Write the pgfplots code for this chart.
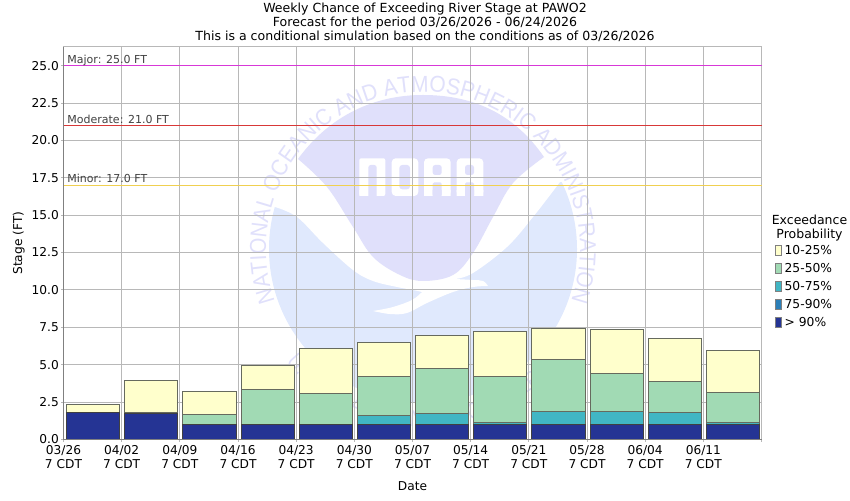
\documentclass[border=0pt]{standalone}
\usepackage{pgfplots}
\pgfplotsset{compat=1.18}
\usepackage{fontspec}
\setmainfont{DejaVu Sans}
\newfontfamily\logofont[FakeStretch=0.91]{Liberation Sans}
\newfontfamily\logofontb[FakeStretch=0.8]{Liberation Sans}
\usetikzlibrary{decorations.text}
\definecolor{gridc}{HTML}{B8B8B8}
\definecolor{axc}{HTML}{808080}
\definecolor{c1}{HTML}{FFFFCC}
\definecolor{c2}{HTML}{A1DAB4}
\definecolor{c3}{HTML}{41B6C4}
\definecolor{c4}{HTML}{2C7FB8}
\definecolor{c5}{HTML}{253494}
\definecolor{edge}{HTML}{666A5E}
\definecolor{logoA}{HTML}{E0E0FB}
\definecolor{logoB}{HTML}{E0E9FD}
\definecolor{majorc}{HTML}{D838D8}
\definecolor{modc}{HTML}{D83838}
\definecolor{minc}{HTML}{F0D050}
\definecolor{floodt}{HTML}{404040}
\pgfplotstableread{
x top10 top25 top50 top75 top90
3.57 2.32 1.81 1.81 1.81 1.81
10.57 3.95 1.81 1.74 1.74 1.74
17.57 3.21 1.67 1.00 1.00 1.00
24.57 4.96 3.35 1.00 1.00 1.00
31.57 6.09 3.08 1.00 1.00 1.00
38.57 6.50 4.22 1.61 1.00 1.00
45.57 6.96 4.75 1.74 1.00 1.00
52.57 7.23 4.22 1.14 1.00 1.00
59.57 7.43 5.36 1.88 1.00 1.00
66.57 7.37 4.42 1.88 1.00 1.00
73.57 6.76 3.88 1.81 1.00 1.00
80.57 5.96 3.15 1.14 1.00 1.00
}\bars
\pgfplotsset{
 stagebar/.style={ybar, bar width=6.4, bar shift=0pt, line width=0.9pt, draw=edge,
  legend image code/.code={\draw[##1, draw=axc, line width=0.7pt] (0pt,-5pt) rectangle (6pt,5pt);}},
}
\begin{document}
\begin{tikzpicture}[x=1pt,y=1pt]
\useasboundingbox (0,0) rectangle (850,500);
% watermark (pixel coordinates, y downwards)
\begin{scope}[yshift=500pt,y=-1pt]
\fill[logoB] (423,249) circle (154);
\fill[white] (260,207) -- (275,207) -- plot[smooth,tension=0.6] coordinates {(275,207) (297,217) (323,243) (353,270) (373,281) (397,287) (413,290) (422,292)}
 -- plot[smooth,tension=0.6] coordinates {(422,292) (412,300) (393,307) (373,311)}
 -- plot[smooth,tension=0.6] coordinates {(373,311) (390,314) (407,313) (427,303) (453,292) (473,287) (488,286)}
 -- plot[smooth,tension=0.6] coordinates {(488,286) (483,281) (473,280) (455,279)}
 -- plot[smooth,tension=0.6] coordinates {(455,279) (473,273) (507,247) (533,217) (560,182)}
 -- (590,182) -- (590,80) -- (260,80) -- cycle;
\fill[logoA] (298,159) .. controls (330,115) and (375,95) .. (423,95) .. controls (475,95) and (515,115) .. (544,157)
 -- plot[smooth,tension=0.6] coordinates {(544,157) (513,183) (493,217) (473,253) (453,275) (423,281) (400,275) (373,257) (353,227) (327,187) (298,159)} -- cycle;
\fill[white,rounded corners=2pt] (359.3,158.3) rectangle (385.3,196);
\fill[white,rounded corners=4pt] (391.7,158.3) rectangle (418.3,196);
\fill[white,rounded corners=4pt] (424,158.3) rectangle (450.7,196);
\fill[white,rounded corners=4pt] (456.7,158.3) rectangle (483.3,196);
\fill[white] (359.3,190) rectangle (368,196) (424,190) rectangle (450.7,196) (456.7,190) rectangle (483.3,196);
\fill[logoA,rounded corners=2.5pt] (368.3,165) rectangle (376.7,205);
\fill[logoA] (368.3,196) rectangle (376.7,205);
\fill[logoA,rounded corners=3pt] (399.3,165) rectangle (410,189.3);
\fill[logoA,rounded corners=2.5pt] (432.7,165) rectangle (441.7,175);
\fill[logoA,rounded corners=2.5pt] (465,165) rectangle (474,175);
\fill[logoA,rounded corners=1.5pt] (432.7,182.3) rectangle (441.7,196);
\fill[logoA,rounded corners=1.5pt] (465,182.3) rectangle (474,196);
\fill[logoA] (432.7,190) rectangle (441.7,196) (465,190) rectangle (474,196);
\end{scope}
\path[postaction={decorate},decoration={text along path,text align=center,
 text={|\logofont\fontsize{23}{23}\selectfont\color{logoA}|NATIONAL OCEANIC AND ATMOSPHERIC ADMINISTRATION}}]
 (423,251) ++(197:157) arc[start angle=197, end angle=-17, radius=157];
\path[postaction={decorate},decoration={text along path,text align=center,
 text={|\logofontb\fontsize{23}{23}\selectfont\color{logoA}|U.S. DEPARTMENT OF COMMERCE}}]
 (423,251) ++(205:178) arc[start angle=205, end angle=335, radius=178];
\begin{axis}[
 at={(63.5pt,60.7pt)}, anchor=south west, scale only axis, width=698pt, height=392.3pt,
 xmin=0, xmax=84, ymin=0, ymax=26.25,
 xtick={0,7,...,84},
 xticklabels={{03/26\\7 CDT},{04/02\\7 CDT},{04/09\\7 CDT},{04/16\\7 CDT},{04/23\\7 CDT},{04/30\\7 CDT},{05/07\\7 CDT},{05/14\\7 CDT},{05/21\\7 CDT},{05/28\\7 CDT},{06/04\\7 CDT},{06/11\\7 CDT},{}},
 ytick={0,2.5,...,25},
 yticklabel style={/pgf/number format/fixed,/pgf/number format/fixed zerofill,/pgf/number format/precision=1,/pgf/number format/assume math mode=true},
 ticklabel style={font=\fontsize{12.2}{14}\selectfont, inner sep=1pt},
 xticklabel style={align=center, yshift=-2pt},
 yticklabel style={xshift=-1pt},
 grid=major, grid style={gridc, line width=0.8pt},
 axis line style={gridc, line width=1pt},
 tick style={gridc, line width=0.8pt}, tick align=outside, major tick length=2.5pt,
 tick pos=left,
 xlabel={Date}, ylabel={Stage (FT)},
 label style={font=\fontsize{12.2}{14}\selectfont},
 xlabel style={at={(axis description cs:0.5,-0.12)},anchor=center},
 ylabel style={at={(axis description cs:-0.064,0.5)},anchor=center},
 legend style={at={(axis description cs:1.019,0.495)}, anchor=north west, draw=none, fill=none, inner sep=0pt,
  font=\fontsize{12.3}{14}\selectfont, row sep=7.3pt, column sep=3pt, nodes={inner sep=0pt, anchor=west}},
 legend cell align=left,
 clip=false,
]
\addplot[stagebar, fill=c1] table[x=x,y=top10] {\bars};
\addlegendentry{10-25\%}
\addplot[stagebar, fill=c2] table[x=x,y=top25] {\bars};
\addlegendentry{25-50\%}
\addplot[stagebar, fill=c3] table[x=x,y=top50] {\bars};
\addlegendentry{50-75\%}
\addplot[stagebar, fill=c4] table[x=x,y=top75] {\bars};
\addlegendentry{75-90\%}
\addplot[stagebar, fill=c5, draw=black!75] table[x=x,y=top90] {\bars};
\addlegendentry{> 90\%}
\addplot[majorc, line width=0.9pt, forget plot] coordinates {(0,25) (84,25)};
\addplot[modc, line width=0.9pt, forget plot] coordinates {(0,21) (84,21)};
\addplot[minc, line width=0.9pt, forget plot] coordinates {(0,17) (84,17)};
\draw[axc, line width=1pt] (rel axis cs:0,1) -- (rel axis cs:0,0) -- (rel axis cs:1,0);
\node[anchor=base west, text=floodt, inner sep=0pt, font=\fontsize{11}{13}\selectfont] at (axis cs:0.45,25.16) {Major: 25.0 FT};
\node[anchor=base west, text=floodt, inner sep=0pt, font=\fontsize{11}{13}\selectfont] at (axis cs:0.45,21.16) {Moderate: 21.0 FT};
\node[anchor=base west, text=floodt, inner sep=0pt, font=\fontsize{11}{13}\selectfont] at (axis cs:0.45,17.16) {Minor: 17.0 FT};
\end{axis}
\node[align=center, font=\fontsize{12.55}{14}\selectfont, inner sep=0pt] at (425,478) {Weekly Chance of Exceeding River Stage at PAWO2\\Forecast for the period 03/26/2026 - 06/24/2026\\This is a conditional simulation based on the conditions as of 03/26/2026};
\node[align=center, font=\fontsize{12.5}{14}\selectfont, inner sep=0pt] at (809.5,271.5) {Exceedance\\Probability};
\end{tikzpicture}
\end{document}
